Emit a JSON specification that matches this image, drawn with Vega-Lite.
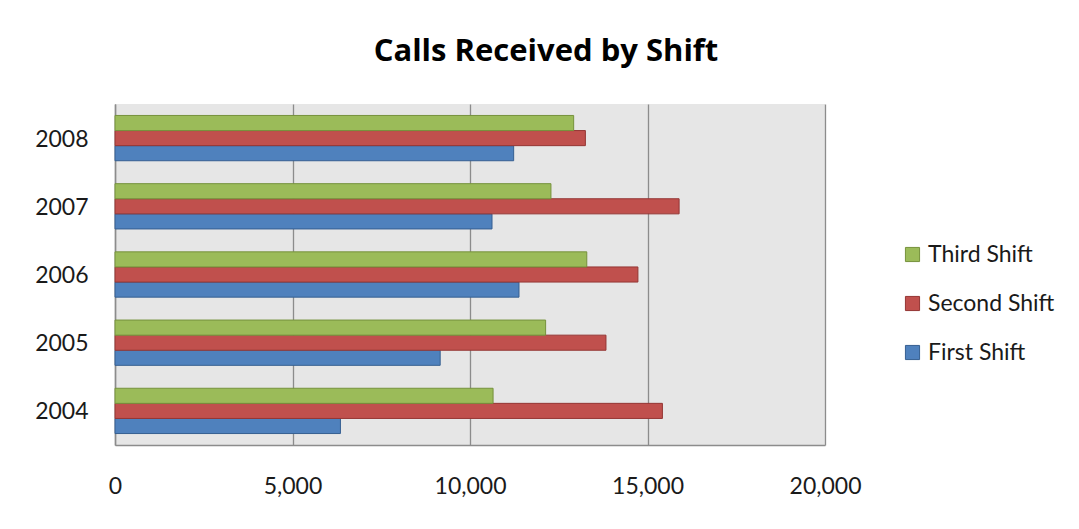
{
  "$schema": "https://vega.github.io/schema/vega-lite/v6.json",
  "autosize": {"type": "none"},
  "width": 710,
  "height": 341,
  "padding": {"left": 115, "top": 104, "right": 254, "bottom": 84},
  "background": "white",
  "title": {
    "text": "Calls Received by Shift",
    "font": "Open Sans",
    "fontSize": 31,
    "fontWeight": "bold",
    "color": "#000000",
    "anchor": "middle",
    "dx": 76,
    "offset": 36
  },
  "data": {
    "values": [
      {"year": "2004", "shift": "First Shift", "calls": 6350},
      {"year": "2004", "shift": "Second Shift", "calls": 15420},
      {"year": "2004", "shift": "Third Shift", "calls": 10650},
      {"year": "2005", "shift": "First Shift", "calls": 9160},
      {"year": "2005", "shift": "Second Shift", "calls": 13830},
      {"year": "2005", "shift": "Third Shift", "calls": 12130},
      {"year": "2006", "shift": "First Shift", "calls": 11380},
      {"year": "2006", "shift": "Second Shift", "calls": 14730},
      {"year": "2006", "shift": "Third Shift", "calls": 13290},
      {"year": "2007", "shift": "First Shift", "calls": 10620},
      {"year": "2007", "shift": "Second Shift", "calls": 15890},
      {"year": "2007", "shift": "Third Shift", "calls": 12280},
      {"year": "2008", "shift": "First Shift", "calls": 11230},
      {"year": "2008", "shift": "Second Shift", "calls": 13250},
      {"year": "2008", "shift": "Third Shift", "calls": 12920}
    ]
  },
  "mark": {"type": "bar", "strokeWidth": 1},
  "encoding": {
    "y": {
      "field": "year",
      "type": "nominal",
      "sort": "descending",
      "scale": {"paddingInner": 0.336, "paddingOuter": 0.168},
      "axis": {
        "title": null,
        "ticks": false,
        "labelFont": "Lato",
        "labelFontSize": 23,
        "labelColor": "#1a1a1a",
        "labelPadding": 27,
        "labelOffset": 1.5,
        "domainColor": "#8c8c8c",
        "domainWidth": 1.5
      }
    },
    "yOffset": {
      "field": "shift",
      "type": "nominal",
      "sort": ["Third Shift", "Second Shift", "First Shift"],
      "scale": {"paddingInner": 0, "paddingOuter": 0}
    },
    "x": {
      "field": "calls",
      "type": "quantitative",
      "scale": {"domain": [0, 20000], "nice": false},
      "axis": {
        "title": null,
        "values": [0, 5000, 10000, 15000, 20000],
        "format": ",d",
        "ticks": false,
        "labelFont": "Lato",
        "labelFontSize": 23,
        "labelColor": "#1a1a1a",
        "labelPadding": 30,
        "labelFlush": false,
        "grid": true,
        "gridColor": "#8c8c8c",
        "gridWidth": 1.3,
        "domainColor": "#8c8c8c",
        "domainWidth": 1.5
      }
    },
    "fill": {
      "field": "shift",
      "type": "nominal",
      "scale": {
        "domain": ["Third Shift", "Second Shift", "First Shift"],
        "range": ["#9bbb59", "#c0504d", "#4f81bd"]
      },
      "legend": {
        "title": null,
        "orient": "none",
        "legendX": 786,
        "legendY": 139,
        "symbolType": "square",
        "symbolSize": 200,
        "symbolStrokeWidth": 1,
        "labelFont": "Lato",
        "labelFontSize": 23,
        "labelColor": "#1a1a1a",
        "labelOffset": 4,
        "rowPadding": 25
      }
    },
    "stroke": {
      "field": "shift",
      "type": "nominal",
      "scale": {
        "domain": ["Third Shift", "Second Shift", "First Shift"],
        "range": ["#76923c", "#943634", "#365f91"]
      },
      "legend": null
    }
  },
  "config": {
    "view": {"fill": "#e6e6e6", "stroke": null}
  }
}
